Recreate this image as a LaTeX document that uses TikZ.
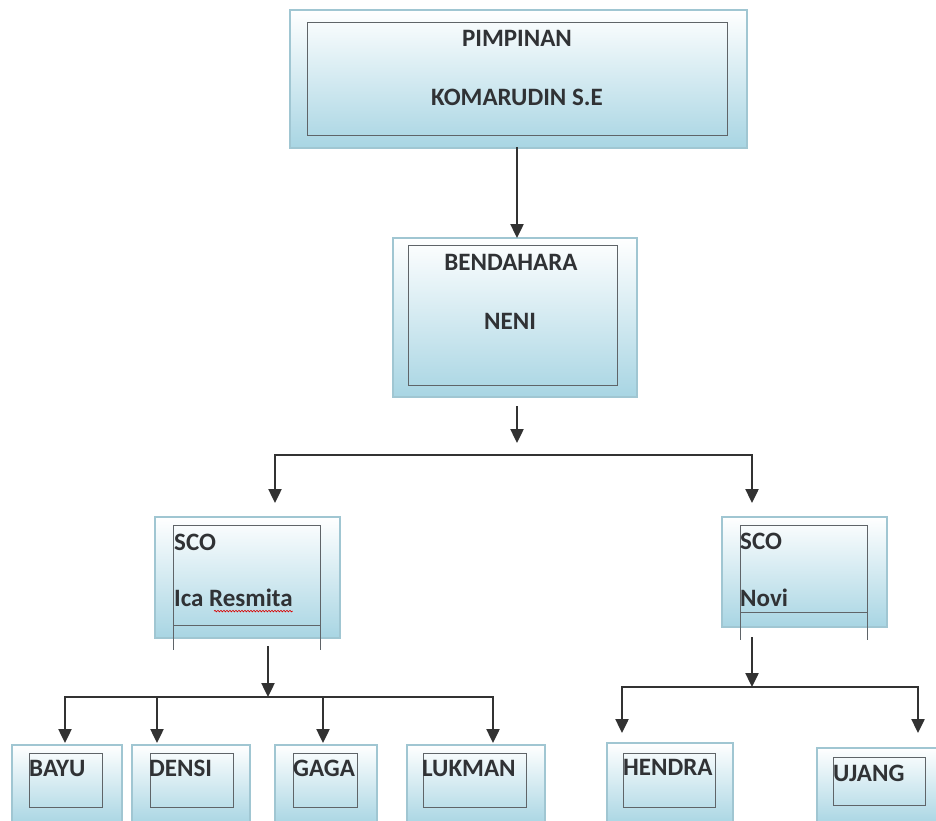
\documentclass[tikz,border=0pt]{standalone}
\usepackage{fontspec}
\setmainfont{Carlito}
\usetikzlibrary{arrows.meta,decorations.pathmorphing}

\definecolor{boxblue}{RGB}{168,213,227}
\definecolor{boxedge}{RGB}{160,198,210}
\definecolor{linegray}{RGB}{50,50,50}
\definecolor{innergray}{RGB}{95,100,104}
\definecolor{txtgray}{RGB}{48,50,53}

\begin{document}
\begin{tikzpicture}[x=1pt,y=-1pt,
    outer box/.style={rectangle,draw=boxedge,line width=1.2pt,top color=white,bottom color=boxblue,inner sep=0pt,outer sep=0pt},
    inner box/.style={rectangle,draw=innergray,line width=1pt,inner sep=0pt,outer sep=0pt},
    thin line/.style={draw=innergray,line width=0.8pt},
    name text/.style={text=txtgray,inner sep=0pt,font=\fontsize{25}{29}\selectfont\bfseries},
    conn/.style={draw=linegray,line width=2.4pt,line cap=rect},
    arr/.style={conn,-{Triangle[length=14pt,width=13pt]}},
    arr2/.style={conn,{Triangle[length=14pt,width=13pt]}-{Triangle[length=14pt,width=13pt]}}
  ]
  \clip (0,0) rectangle (936,820);

  % boxes
  \node[outer box,minimum width=457pt,minimum height=138pt] (pimpinan) at (518.5,79) {};
  \node[inner box,minimum width=420pt,minimum height=113pt] (pimpinan-in) at (517,78.5) {};
  \node[outer box,minimum width=244pt,minimum height=159pt] (bendahara) at (515,317.5) {};
  \node[inner box,minimum width=209pt,minimum height=140pt] (bendahara-in) at (512.5,315) {};
  \node[outer box,minimum width=185pt,minimum height=121pt] (scoA) at (247.5,577.5) {};
  \node[inner box,minimum width=147pt,minimum height=100pt] (scoA-in) at (246.5,575) {};
  \node[outer box,minimum width=165pt,minimum height=110pt] (scoB) at (804.5,572) {};
  \node[inner box,minimum width=127pt,minimum height=87pt] (scoB-in) at (803.5,568.5) {};
  \node[outer box,minimum width=110pt,minimum height=80pt] (bayu) at (67,785) {};
  \node[inner box,minimum width=73pt,minimum height=54pt] (bayu-in) at (65.5,780) {};
  \node[outer box,minimum width=118pt,minimum height=80pt] (densi) at (191,785) {};
  \node[inner box,minimum width=83pt,minimum height=54pt] (densi-in) at (191.5,780) {};
  \node[outer box,minimum width=102pt,minimum height=80pt] (gaga) at (326,785) {};
  \node[inner box,minimum width=64pt,minimum height=54pt] (gaga-in) at (325,780) {};
  \node[outer box,minimum width=138pt,minimum height=80pt] (lukman) at (476,785) {};
  \node[inner box,minimum width=103pt,minimum height=54pt] (lukman-in) at (474.5,780) {};
  \node[outer box,minimum width=126pt,minimum height=82pt] (hendra) at (670,784) {};
  \node[inner box,minimum width=92pt,minimum height=54pt] (hendra-in) at (669,780) {};
  \node[outer box,minimum width=128pt,minimum height=77pt] (ujang) at (881,786.5) {};
  \node[inner box,minimum width=92pt,minimum height=48pt] (ujang-in) at (879,781) {};

  \draw[thin line] (scoA-in.south west) -- ++(0,25);
  \draw[thin line] (scoA-in.south east) -- ++(0,25);
  \draw[thin line] (scoB-in.south west) -- ++(0,28);
  \draw[thin line] (scoB-in.south east) -- ++(0,28);

  % texts
  \node[name text] (t-pimpinan) at (517,38) {PIMPINAN};
  \node[name text] (t-komarudin) at (517,97) {KOMARUDIN S.E};
  \node[name text] (t-bendahara) at (511,262) {BENDAHARA};
  \node[name text] (t-neni) at (510,321) {NENI};
  \node[name text,anchor=west] (t-scoA) at (174,542) {SCO};
  \node[name text,anchor=west] (t-ica) at (174,598) {Ica Resmita};
  \node[name text,anchor=west] (t-scoB) at (740,541) {SCO};
  \node[name text,anchor=west] (t-novi) at (740,598) {Novi};
  \node[name text,anchor=west] (t-bayu) at (29,768) {BAYU};
  \node[name text,anchor=west] (t-densi) at (149,768) {DENSI};
  \node[name text,anchor=west] (t-gaga) at (293,768) {GAGA};
  \node[name text,anchor=west] (t-lukman) at (422,768) {LUKMAN};
  \node[name text,anchor=west] (t-hendra) at (623,767) {HENDRA};
  \node[name text,anchor=west] (t-ujang) at (833,773) {UJANG};

  \draw[red!85!black,line width=0.6pt,decorate,decoration={snake,amplitude=0.8pt,segment length=3pt}]
    ([xshift=40pt,yshift=-4pt]t-ica.south west) -- ([yshift=-4pt]t-ica.south east);

  % connectors
  \coordinate (j1) at (517,455);
  \coordinate (jL) at (275,455);
  \coordinate (jR) at (752,455);
  \coordinate (k1) at (268,697);
  \coordinate (dBayu) at (65,697);
  \coordinate (dDensi) at (157,697);
  \coordinate (dGaga) at (323,697);
  \coordinate (dLukman) at (493,697);
  \coordinate (k2) at (752,687);
  \coordinate (dHendra) at (622,687);
  \coordinate (dUjang) at (918,687);

  \draw[arr] (pimpinan.south -| j1) -- (j1 |- bendahara.north);
  \draw[arr,shorten <=10pt,shorten >=12pt] (bendahara.south -| j1) -- (j1);
  \draw[arr2,shorten <=14pt,shorten >=14pt] (jL |- scoA.north) -- (jL) -- (jR) -- (jR |- scoB.north);

  \draw[arr,shorten <=9pt] (scoA.south -| k1) -- (k1);
  \draw[arr2,shorten <=2pt,shorten >=2pt] (dBayu |- bayu.north) -- (dBayu) -- (dLukman) -- (dLukman |- lukman.north);
  \draw[arr,shorten >=2pt] (dDensi) -- (dDensi |- densi.north);
  \draw[arr,shorten >=2pt] (dGaga) -- (dGaga |- gaga.north);

  \draw[arr,shorten <=11pt] (scoB.south -| k2) -- (k2);
  \draw[arr2,shorten <=10pt,shorten >=15pt] (dHendra |- hendra.north) -- (dHendra) -- (dUjang) -- (dUjang |- ujang.north);
\end{tikzpicture}
\end{document}
